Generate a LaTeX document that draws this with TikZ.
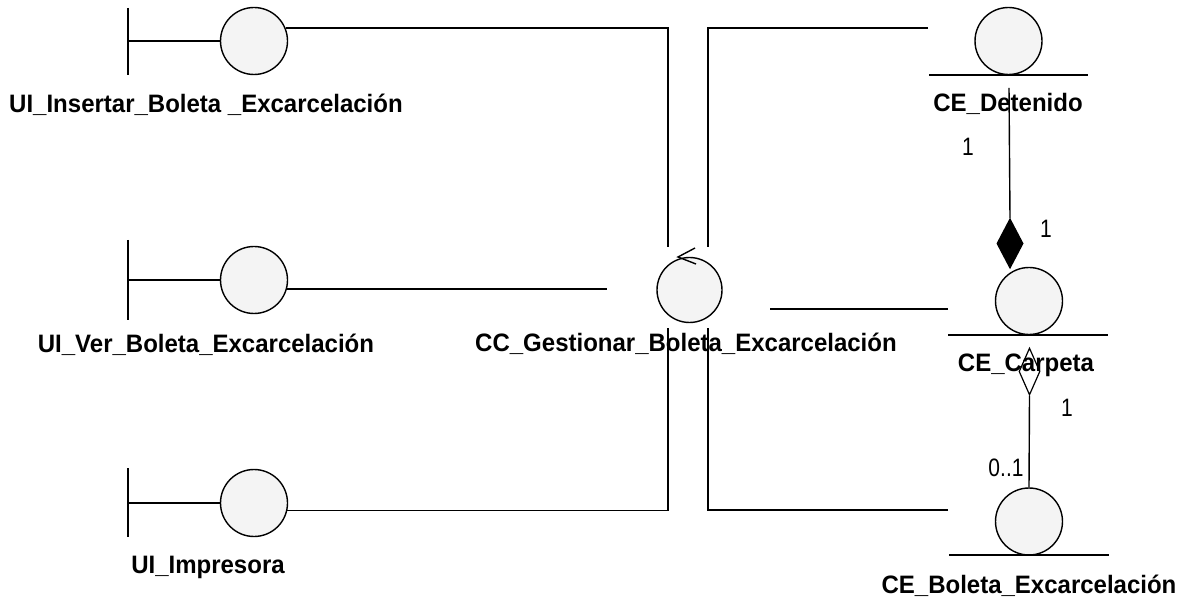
\documentclass[tikz,border=0pt]{standalone}
\usepackage{fontspec}
\setmainfont{Liberation Sans}
\usetikzlibrary{shapes.geometric}
\newcommand{\tallnum}[1]{\scalebox{1}[1.2]{#1}}
\newcommand{\tallname}[1]{\scalebox{1}[1.05]{#1}}
\begin{document}
\begin{tikzpicture}[x=1pt,y=-1pt,
  line width=1.4pt,
  obj/.style={circle,draw,fill=gray!9,minimum size=67pt,inner sep=0pt},
  objlabel/.style={font=\fontsize{24}{24}\selectfont\bfseries,anchor=base,inner sep=0pt},
  mult/.style={font=\fontsize{21}{21}\selectfont,inner sep=0pt}]
\useasboundingbox[fill=white] (0,0) rectangle (1186,601);

% boundary objects
\node[obj] (ins) at (254,41) {};
\node[obj] (ver) at (254,280) {};
\node[obj] (imp) at (254,503) {};
\coordinate (insbar) at (128,41);
\coordinate (verbar) at (128,280);
\coordinate (impbar) at (128,503);
\draw (128,8) -- (128,75);
\draw (128,240) -- (128,320);
\draw (128,468) -- (128,537);
\draw (insbar) -- (ins.west);
\draw (verbar) -- (ver.west);
\draw (impbar) -- (imp.west);
\node[objlabel] (insl) at (206,113) {\tallname{UI\_Insertar\_Boleta \_Excarcelación}};
\node[objlabel] (verl) at (206,353) {\tallname{UI\_Ver\_Boleta\_Excarcelación}};
\node[objlabel] (impl) at (208,573) {\tallname{UI\_Impresora}};

% control object
\node[obj,minimum size=65pt] (ctl) at (689.5,290) {};
\draw (695,248) -- (678,257) -- (696,264);
\node[objlabel] (ctll) at (686,352) {\tallname{CC\_Gestionar\_Boleta\_Excarcelación}};

% entity objects
\node[obj] (det) at (1008.5,41) {};
\draw (929,75) -- (1088,75);
\node[objlabel] (detl) at (1008,112) {\tallname{CE\_Detenido}};

\node[obj] (car) at (1029,301) {};
\draw (948,335) -- (1108,335);
\node[objlabel] (carl) at (1026,372) {\tallname{CE\_Carpeta}};

\node[obj] (bol) at (1029,521.5) {};
\draw (949,555) -- (1109,555);
\node[objlabel] (boll) at (1029,593) {\tallname{CE\_Boleta\_Excarcelación}};

% associations with the control
\coordinate (ctlnw) at (668,247);
\coordinate (ctlne) at (708,247);
\coordinate (ctlsw) at (668,328);
\coordinate (ctlse) at (708,328);
\coordinate (ctlw) at (607,290);
\coordinate (ctle) at (770,309);
\coordinate (detw) at (928,28);
\coordinate (carw) at (948,309);
\coordinate (bolw) at (948,510);
\draw (ins.22.5) -- (ins.22.5 -| ctlnw) -- (ctlnw);
\draw (ver.-15) -- (ver.-15 -| ctlw);
\draw (imp.-13) -- (imp.-13 -| ctlsw) -- (ctlsw);
\draw (detw) -| (ctlne);
\draw (carw) -- (ctle);
\draw (bolw) -| (ctlse);

% composition CE_Detenido -- CE_Carpeta
\node[diamond,draw,fill=black,minimum width=26pt,minimum height=49pt,inner sep=0pt] (comp) at (1010,243.5) {};
\coordinate (dettop) at (1009,88);
\draw (dettop) -- (comp.north);
\node[mult] (m1) at (968,147) {\tallnum{1}};
\node[mult] (m2) at (1046,229) {\tallnum{1}};

% aggregation CE_Carpeta -- CE_Boleta_Excarcelacion
\node[diamond,draw,line width=1.2pt,minimum width=21pt,minimum height=47pt,inner sep=0pt] (aggr) at (1029.5,371.5) {};
\draw (aggr.south) -- (bol.north);
\node[mult] (m3) at (1067,408) {\tallnum{1}};
\node[mult] (m4) at (1006,468) {\tallnum{0..1}};
\end{tikzpicture}
\end{document}
